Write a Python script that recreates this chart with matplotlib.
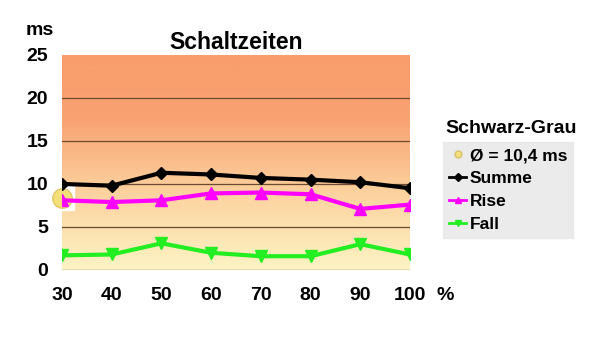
import numpy as np
import matplotlib.pyplot as plt
from matplotlib.colors import LinearSegmentedColormap
from matplotlib.lines import Line2D

plt.rcParams['font.family'] = ['Liberation Sans', 'DejaVu Sans']
plt.rcParams['font.weight'] = 'bold'

# helligkeit in %
x = [30, 40, 50, 60, 70, 80, 90, 100]
summe = [10.0, 9.8, 11.3, 11.1, 10.7, 10.5, 10.2, 9.5]
rise = [8.1, 7.9, 8.1, 8.9, 9.0, 8.8, 7.1, 7.6]
fall = [1.7, 1.8, 3.1, 2.0, 1.6, 1.6, 3.0, 1.8]
mittel = 10.4
mittel_pos = (30, 8.4)

fig = plt.figure(figsize=(6, 3.52), dpi=100)
ax = fig.add_axes([0.1033, 0.233, 0.58, 0.611])

# hintergrund verlauf
cmap = LinearSegmentedColormap.from_list('bg', [(0, '#fdf3c4'), (0.35, '#fcd3a0'), (0.7, '#f9a272'), (1, '#f99d6c')])
grad = np.linspace(0, 1, 256).reshape(-1, 1)
ax.imshow(grad, aspect='auto', cmap=cmap, origin='lower', extent=[30, 100, 0, 25], zorder=0)

for yy in [5, 10, 15, 20]:
    ax.axhline(yy, color='#6b4a30', lw=0.9, zorder=1)
ax.axhline(0, color='#808080', lw=1.0, zorder=1)

# mittelwert-punkt
ax.plot(*mittel_pos, marker='s', ms=17, color='white', zorder=2, clip_on=False)
ax.plot(*mittel_pos, marker='o', ms=14, color='#f3df78', markeredgecolor='#e0c868', mew=1, zorder=2.5, clip_on=False)

ax.plot(x, summe, color='black', lw=3, marker='D', ms=6, zorder=4)
ax.plot(x, rise, color='#ff00ff', lw=3, marker='^', ms=8, zorder=3)
ax.plot(x, fall, color='#22ee22', lw=3, marker='v', ms=8, zorder=3)

ax.set_xlim(30, 100)
ax.set_ylim(0, 25)
ax.set_xticks(x)
ax.set_yticks([0, 5, 10, 15, 20, 25])
ax.tick_params(length=0, labelsize=14, pad=12)
ax.tick_params(axis='y', pad=10)
for lab in ax.get_xticklabels() + ax.get_yticklabels():
    lab.set_fontweight('bold')
for s in ax.spines.values():
    s.set_visible(False)

fig.text(0.067, 0.9, 'ms', fontsize=14, fontweight='bold', ha='center')
fig.text(0.742, 0.147, '%', fontsize=14, fontweight='bold', ha='center')
fig.text(0.393, 0.86, 'Schaltzeiten', fontsize=16.5, fontweight='bold', ha='center')

handles = [
    Line2D([], [], ls='none', marker='o', ms=5, color='#f3df78', markeredgecolor='#d8c070'),
    Line2D([], [], color='black', lw=2, marker='D', ms=4),
    Line2D([], [], color='#ff00ff', lw=2, marker='^', ms=5),
    Line2D([], [], color='#22ee22', lw=2, marker='v', ms=5),
]
labels = ['Ø = 10,4 ms', 'Summe', 'Rise', 'Fall']
leg = fig.legend(handles, labels, loc='upper left', bbox_to_anchor=(0.738, 0.597),
                 frameon=True, fancybox=False, facecolor='#e6e6e6', edgecolor='#e6e6e6',
                 prop={'size': 12.5, 'weight': 'bold'}, handlelength=1.0, handletextpad=0.2,
                 labelspacing=0.45, borderpad=0.35, borderaxespad=0)
fig.text(0.743, 0.622, 'Schwarz-Grau', fontsize=14, fontweight='bold', ha='left')

fig.savefig('out.png', dpi=100)
